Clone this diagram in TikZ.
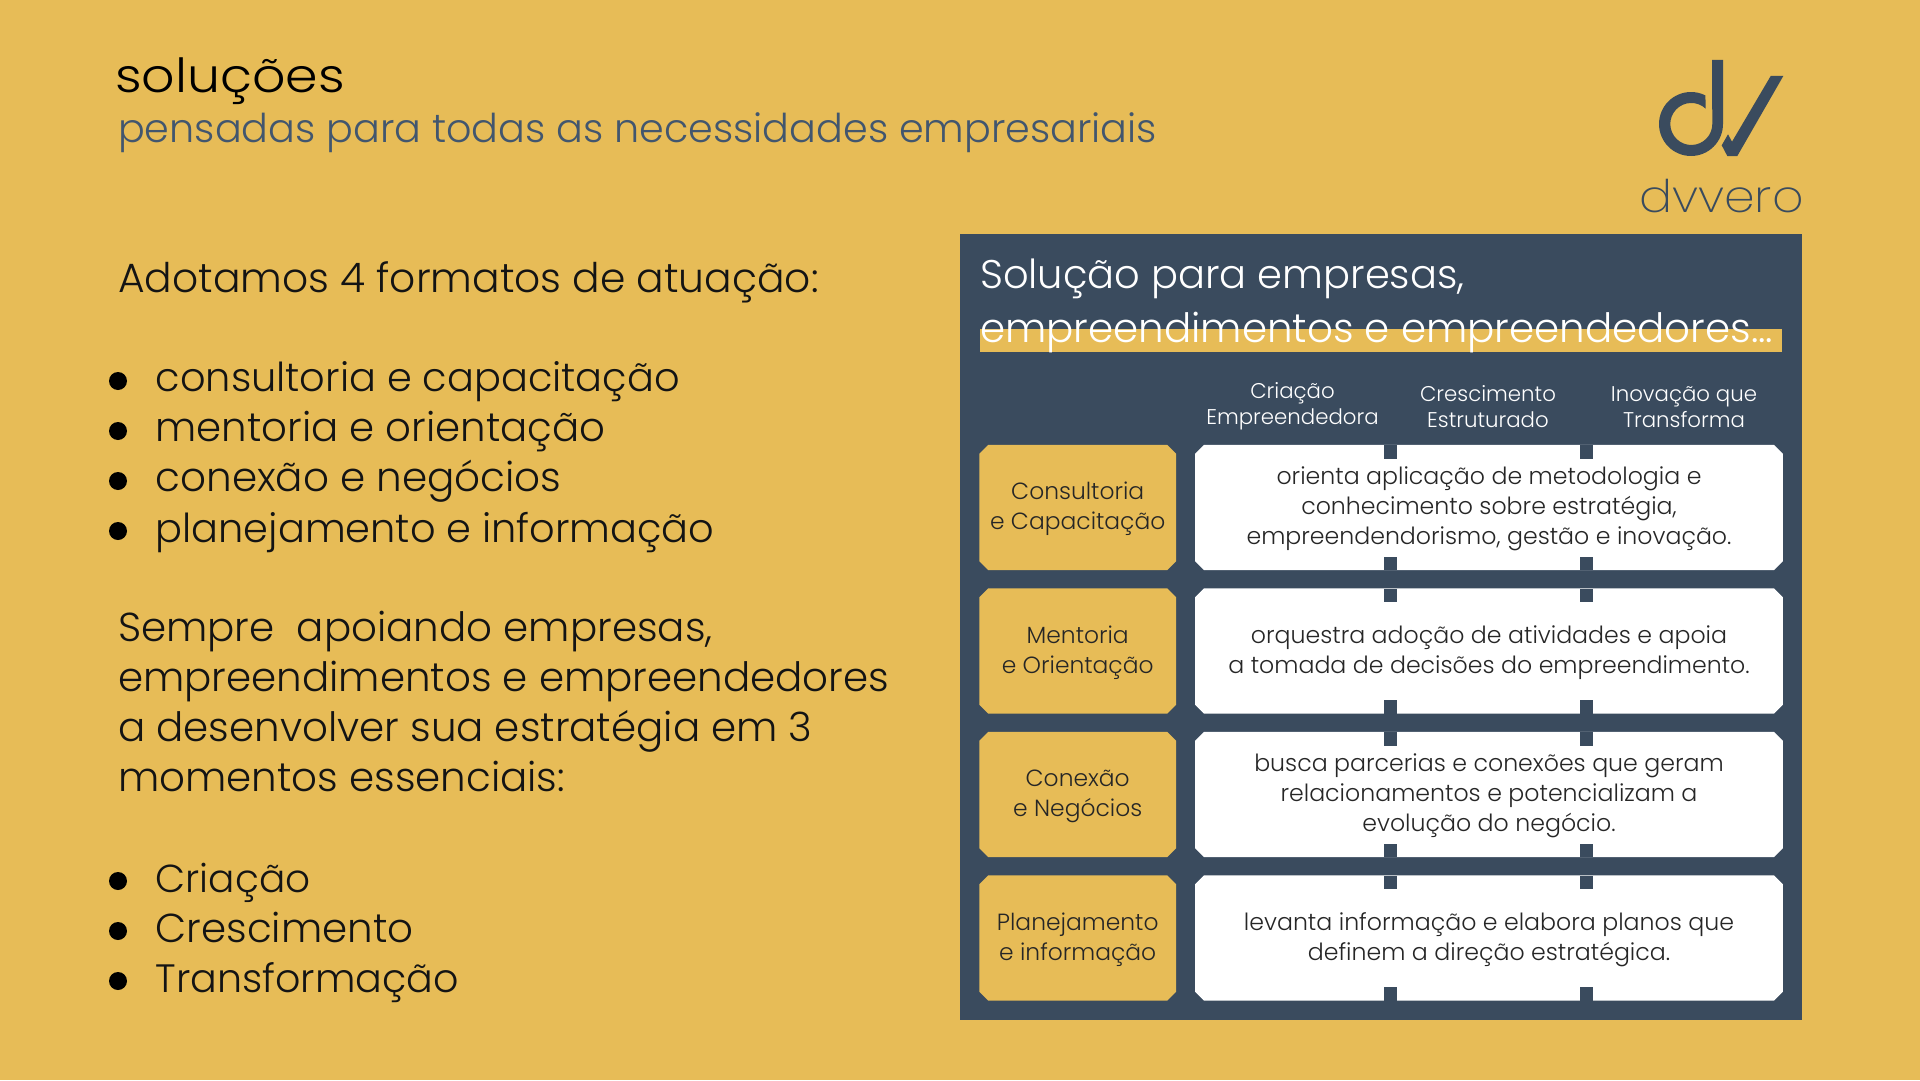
\documentclass[tikz,border=0pt]{standalone}
\usepackage{fontspec}
\setmainfont{Poppins Light}
\newfontfamily\titlefont[FakeStretch=1.11]{Poppins Light}
\newfontfamily\markfont[FakeStretch=1.09]{Poppins ExtraLight}
\usetikzlibrary{calc}
\definecolor{sandbg}{HTML}{E7BC57}
\definecolor{slatebg}{HTML}{3A4B5E}
\definecolor{subtxt}{HTML}{42566E}
\def\cutbox[#1](#2){\fill[#1] ($(#2.north west)+(9,0)$) -- ($(#2.north east)+(-9,0)$) -- ($(#2.north east)+(0,9)$) -- ($(#2.south east)+(0,-9)$) -- ($(#2.south east)+(-9,0)$) -- ($(#2.south west)+(9,0)$) -- ($(#2.south west)+(0,-9)$) -- ($(#2.north west)+(0,9)$) -- cycle;}
\tikzset{
	lefttxt/.style={anchor=base west, inner sep=0, font=\fontsize{40.4}{50}\selectfont, text=black!92},
	itemtxt/.style={lefttxt, font=\fontsize{39.9}{50}\selectfont},
	dotmark/.style={circle, fill=black, inner sep=0, minimum size=18},
	headtxt/.style={anchor=base west, inner sep=0, font=\fontsize{40}{54}\selectfont, text=white},
	coltxt/.style={align=center, inner sep=0, font=\fontsize{21.3}{26}\selectfont, text=white},
	rowbox/.style={rectangle, inner sep=0, minimum width=196.5, minimum height=125},
	textbox/.style={rowbox, minimum width=587.5},
	rowtxt/.style={align=center, inner sep=0, yshift=-1.5, font=\fontsize{23.4}{30}\selectfont, text=black!85},
	boxtxt/.style={rowtxt, font=\fontsize{23.65}{30}\selectfont},
	notchbox/.style={rectangle, fill=slatebg, inner sep=0, minimum width=12.5, minimum height=13.5},
}

\begin{document}
\begin{tikzpicture}[x=1pt, y=-1pt]
	\useasboundingbox (0, 0) rectangle (1920, 1081);
	\fill[sandbg] (0, 0) rectangle (1920, 1080);
	
	%%%%% heading %%%%%
	\node[anchor=base west, inner sep=0, font=\titlefont\fontsize{47}{50}\selectfont, text=black] (title) at (115, 92.5) {soluções};
	\node[anchor=base west, inner sep=0, font=\fontsize{39.7}{50}\selectfont, text=subtxt] (subtitle) at (118, 142) {pensadas para todas as necessidades empresariais};
	
	%%%%% logo %%%%%
	\fill[slatebg] (1723, 60) -- (1723, 124) arc (0:296.7:32) -- (1705.7, 108.7) arc (313.3:0:21) -- (1712, 60) -- cycle;
	\fill[slatebg] (1770.7, 76) -- (1783.3, 76) -- (1737.3, 156) -- (1727.3, 156) -- (1721.7, 145.3) -- (1728, 134.3) -- (1732, 141.7) -- cycle;
	\node[anchor=base west, inner sep=0, font=\markfont\fontsize{45}{45}\selectfont, text=slatebg] (wordmark) at (1639, 212.5) {dvvero};
	
	%%%%% left column %%%%%
	\node[lefttxt, font=\fontsize{40.8}{50}\selectfont] (intro) at (118, 292.5) {Adotamos 4 formatos de atuação:};
	
	\node[dotmark] (doca) at (118, 381) {};
	\node[itemtxt] (itema) at (155.5, 391.5) {consultoria e capacitação};
	\node[dotmark] (docb) at (118, 431) {};
	\node[itemtxt, font=\fontsize{40.3}{50}\selectfont] (itemb) at (155.5, 441.5) {mentoria e orientação};
	\node[dotmark] (docc) at (118, 481) {};
	\node[itemtxt, font=\fontsize{40.5}{50}\selectfont] (itemc) at (155.5, 491.5) {conexão e negócios};
	\node[dotmark] (docd) at (118, 531) {};
	\node[itemtxt] (itemd) at (155.5, 542.5) {planejamento e informação};
	
	\node[lefttxt] (morea) at (118, 641.5) {Sempre\ \ apoiando empresas,};
	\node[lefttxt] (moreb) at (118, 691.5) {empreendimentos e empreendedores};
	\node[lefttxt] (morec) at (118, 741.5) {a desenvolver sua estratégia em 3};
	\node[lefttxt] (mored) at (118, 791.5) {momentos essenciais:};
	
	\node[dotmark] (doce) at (118, 881) {};
	\node[itemtxt, font=\fontsize{39}{50}\selectfont] (iteme) at (155.5, 892.5) {Criação};
	\node[dotmark] (docf) at (118, 931) {};
	\node[itemtxt, font=\fontsize{40.4}{50}\selectfont] (itemf) at (155.5, 942.5) {Crescimento};
	\node[dotmark] (docg) at (118, 981) {};
	\node[itemtxt, font=\fontsize{39.6}{50}\selectfont] (itemg) at (155.5, 992.5) {Transformação};
	
	%%%%% panel %%%%%
	\fill[slatebg] (960, 234) rectangle (1802, 1020);
	\fill[sandbg] (979.5, 329) rectangle (1782, 352);
	\node[headtxt] (heada) at (980, 288) {Solução para empresas,};
	\node[headtxt, font=\fontsize{40.4}{54}\selectfont] (headb) at (980, 342) {empreendimentos e empreendedores...};
	
	\node[coltxt] (cola) at (1292.5, 406.5) {Criação\\Empreendedora};
	\node[coltxt] (colb) at (1488, 407) {Crescimento\\Estruturado};
	\node[coltxt] (colc) at (1684, 407) {Inovação que\\Transforma};
	
	\node[rowbox] (rowa) at (1077.7, 507.5) {};
	\cutbox[sandbg](rowa);
	\node[rowtxt] (rowa-txt) at (rowa) {Consultoria\\e Capacitação};
	\node[rowbox] (rowb) at (1077.7, 651) {};
	\cutbox[sandbg](rowb);
	\node[rowtxt] (rowb-txt) at (rowb) {Mentoria\\e Orientação};
	\node[rowbox] (rowc) at (1077.7, 794.5) {};
	\cutbox[sandbg](rowc);
	\node[rowtxt] (rowc-txt) at (rowc) {Conexão\\e Negócios};
	\node[rowbox] (rowd) at (1077.7, 938) {};
	\cutbox[sandbg](rowd);
	\node[rowtxt] (rowd-txt) at (rowd) {Planejamento\\e informação};
	
	\node[textbox] (boxa) at (1489, 507.5) {};
	\cutbox[white](boxa);
	\node[boxtxt] (boxa-txt) at (boxa) {orienta aplicação de metodologia e\\conhecimento sobre estratégia,\\empreendendorismo, gestão e inovação.};
	\node[textbox] (boxb) at (1489, 651) {};
	\cutbox[white](boxb);
	\node[boxtxt] (boxb-txt) at (boxb) {orquestra adoção de atividades e apoia\\a tomada de decisões do empreendimento.};
	\node[textbox] (boxc) at (1489, 794.5) {};
	\cutbox[white](boxc);
	\node[boxtxt] (boxc-txt) at (boxc) {busca parcerias e conexões que geram\\relacionamentos e potencializam a\\evolução do negócio.};
	\node[textbox] (boxd) at (1489, 938) {};
	\cutbox[white](boxd);
	\node[boxtxt] (boxd-txt) at (boxd) {levanta informação e elabora planos que\\definem a direção estratégica.};
	
	\foreach \bx in {boxa, boxb, boxc, boxd} {
		\node[notchbox, anchor=north] (\bx-na) at ([xshift=-98.5]\bx.north) {};
		\node[notchbox, anchor=north] (\bx-nb) at ([xshift=97.5]\bx.north) {};
		\node[notchbox, anchor=south] (\bx-sa) at ([xshift=-98.5]\bx.south) {};
		\node[notchbox, anchor=south] (\bx-sb) at ([xshift=97.5]\bx.south) {};
	}
\end{tikzpicture}
\end{document}
